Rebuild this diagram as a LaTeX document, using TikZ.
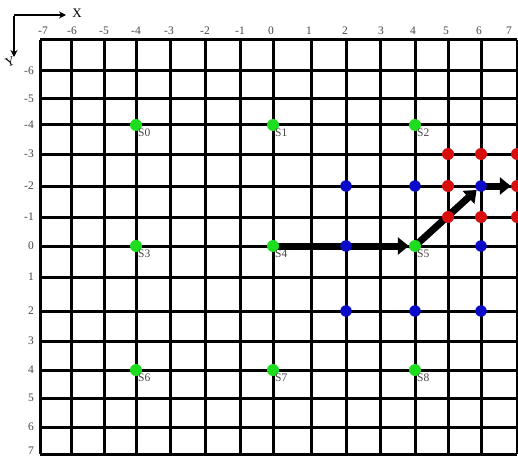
\documentclass[tikz,border=0pt]{standalone}
\usepackage{fontspec}
\setmainfont{Liberation Serif}
\usetikzlibrary{arrows.meta}
\pgfdeclarelayer{bg}
\pgfdeclarelayer{arr}
\pgfsetlayers{bg,arr,main}
\definecolor{gdot}{RGB}{30,220,30}
\definecolor{bdot}{RGB}{10,10,200}
\definecolor{rdot}{RGB}{215,15,15}
\definecolor{lbl}{RGB}{70,70,70}
\tikzset{
  gridline/.style={line width=3pt, black},
  dotbase/.style={circle, inner sep=0pt, minimum size=12pt},
  gpt/.style={dotbase, fill=gdot},
  bpt/.style={dotbase, fill=bdot, minimum size=11.5pt},
  rpt/.style={dotbase, fill=rdot},
  slabel/.style={anchor=north west, inner sep=0pt, text=lbl, font=\fontsize{11.5}{11.5}\selectfont},
  axlabel/.style={inner sep=0pt, text=lbl, font=\fontsize{11.5}{11.5}\selectfont},
  bigarrow/.style={line width=7pt, black, -{Triangle[length=11pt,width=17pt]}},
  axarrow/.style={line width=2pt, black, -{Stealth[length=7pt,width=7pt]}}
}
\begin{document}
\begin{tikzpicture}[x=1pt,y=-1pt]
\useasboundingbox (0,0) rectangle (518,457);
% named grid positions
\foreach \n/\p in {m7/40,m6/71,m5/104,m4/136,m3/170,m2/205,m1/240,0/273,1/311,2/346,3/380,4/415,5/448,6/481,7/517}
  \coordinate (x\n) at (\p,0);
\foreach \n/\p in {m7/40,m6/71,m5/99,m4/125,m3/154,m2/186,m1/217,0/246,1/277,2/311,3/341,4/370,5/398,6/427,7/454}
  \coordinate (y\n) at (0,\p);
% grid
\begin{pgfonlayer}{bg}
\foreach \p in {40,71,104,136,170,205,240,273,311,346,380,415,448,481,517}
  \draw[gridline] (\p,40) -- (\p,454);
\foreach \p in {40,71,99,125,154,186,217,246,277,311,341,370,398,427,454}
  \draw[gridline] (40,\p) -- (517,\p);
\end{pgfonlayer}
% axis labels
\foreach \t/\p in {-7/43,-6/72,-5/104,-4/136,-3/169,-2/205,-1/240,0/271,1/309,2/345,3/381,4/413,5/446,6/479,7/509}
  \node[axlabel] at (\p,31) {\t};
\foreach \t/\p in {-6/71,-5/99,-4/125,-3/154,-2/186,-1/217,0/246,1/277,2/311,3/341,4/370,5/398,6/427,7/451}
  \node[axlabel, anchor=east] at (34,\p) {\t};
% axes indicator
\coordinate (corner) at (14,15);
\coordinate (xend) at (66,15);
\coordinate (yend) at (14,57);
\draw[axarrow] (corner) -- (xend);
\draw[axarrow] ([yshift=-1pt]corner) -- (yend);
\node[inner sep=0pt, font=\fontsize{13}{13}\selectfont] (xl) at (77,13) {X};
\node[inner sep=0pt, rotate=20, font=\fontsize{13}{13}\selectfont] (yl) at (10,62) {Y};
% green states
\node[gpt] (S0) at (xm4 |- ym4) {};
\node[gpt] (S1) at (x0 |- ym4) {};
\node[gpt] (S2) at (x4 |- ym4) {};
\node[gpt] (S3) at (xm4 |- y0) {};
\node[gpt] (S4) at (x0 |- y0) {};
\node[gpt] (S5) at (x4 |- y0) {};
\node[gpt] (S6) at (xm4 |- y4) {};
\node[gpt] (S7) at (x0 |- y4) {};
\node[gpt] (S8) at (x4 |- y4) {};
\foreach \s in {0,...,8}
  \node[slabel] at ([shift={(2pt,-4pt)}]S\s.center) {S\s};
% blue points
\node[bpt] (B2m2) at (x2 |- ym2) {};
\node[bpt] (B4m2) at (x4 |- ym2) {};
\node[bpt] (B6m2) at (x6 |- ym2) {};
\node[bpt] (B20) at (x2 |- y0) {};
\node[bpt] (B60) at (x6 |- y0) {};
\node[bpt] (B22) at (x2 |- y2) {};
\node[bpt] (B42) at (x4 |- y2) {};
\node[bpt] (B62) at (x6 |- y2) {};
% red points
\node[rpt] (R5m3) at (x5 |- ym3) {};
\node[rpt] (R6m3) at (x6 |- ym3) {};
\node[rpt] (R7m3) at (x7 |- ym3) {};
\node[rpt] (R5m2) at (x5 |- ym2) {};
\node[rpt] (R7m2) at (x7 |- ym2) {};
\node[rpt] (R5m1) at (x5 |- ym1) {};
\node[rpt] (R6m1) at (x6 |- ym1) {};
\node[rpt] (R7m1) at (x7 |- ym1) {};
% path arrows
\begin{pgfonlayer}{arr}
\draw[bigarrow] (S4.center) -- (S5);
\draw[bigarrow] (S5.center) -- (B6m2);
\draw[bigarrow] (B6m2.center) -- (R7m2);
\end{pgfonlayer}
\end{tikzpicture}
\end{document}
